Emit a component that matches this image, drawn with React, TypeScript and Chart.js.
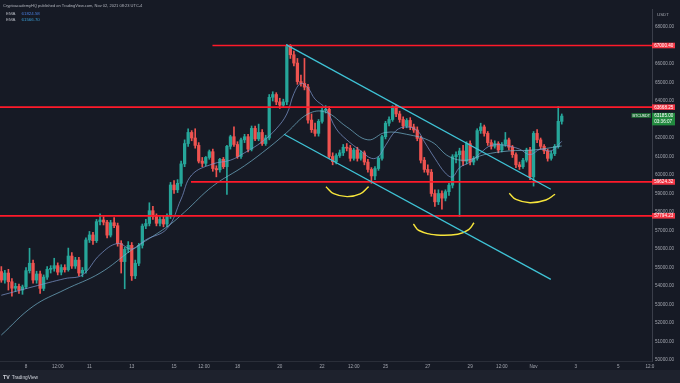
import React, { useEffect, useRef } from "react";
import { Chart, registerables } from "chart.js";

Chart.register(...registerables);

// ---- data (4h candles, index 1 = Oct 7 04:00, index 160 = Nov 2 08:00) ----
const firstCandle = 1;

const opens = [
  54780, 54320, 54700, 54230, 53880, 53980, 53780, 53950, 54830, 55230,
  54320, 54650, 53870, 54480, 54900, 54950, 55100, 54750, 55000, 54880,
  55620, 55080, 55400, 54700, 54850, 56490, 56760, 56450, 57480, 57570,
  57450, 56750, 57420, 57260, 56300, 55320, 55980, 56200, 54550, 55230,
  56200, 57240, 57380, 58070, 57750, 57390, 57600, 57350, 57780, 59460,
  59200, 59550, 60600, 61700, 62300, 62000, 61600, 60750, 60630, 60950,
  61260, 60350, 60280, 60850, 60450, 61550, 62070, 61650, 61000, 61900,
  62070, 61400, 62520, 61950, 62300, 61700, 62000, 64200, 64350, 63950,
  63780, 63950, 66990, 66500, 66050, 65050, 64950, 64750, 62970, 62450,
  62250, 62900, 63500, 63550, 61000, 60720, 61050, 61200, 61500, 61450,
  60900, 61350, 60900, 61200, 60700, 60300, 59950, 60350, 60900, 62070,
  62800, 63000, 63700, 63300, 63000, 62650, 62950, 62600, 62430, 61980,
  60800, 60300, 60150, 59000, 58550, 59000, 58750, 59100, 59450, 60990,
  61100, 61300, 60750, 61700, 60700, 60900, 62400, 62600, 62250, 61750,
  61550, 61700, 61350, 61650, 61900, 61500, 61100, 60550, 60450, 60800,
  61350, 59900, 62250, 61900, 61550, 61300, 60900, 61150, 61550, 62900,
];

const highs = [
  55050, 54850, 54900, 54400, 54150, 54100, 54050, 55000, 56040, 55400,
  54800, 54800, 54600, 55050, 55100, 55500, 55250, 55150, 55150, 56050,
  55800, 55550, 55550, 55000, 56600, 56950, 56900, 57600, 57900, 57750,
  57550, 57550, 57700, 57400, 56450, 56100, 56400, 56350, 55400, 56300,
  57350, 57600, 58500, 58300, 57900, 57750, 57800, 57900, 59600, 59700,
  59750, 60750, 61900, 62500, 62400, 62500, 61750, 60950, 61000, 61350,
  61400, 60500, 60900, 60950, 61600, 62150, 62600, 61800, 62000, 62200,
  62200, 62650, 62650, 62750, 62450, 62150, 64350, 64500, 64450, 64150,
  64100, 67050, 67050, 66700, 66300, 65400, 66300, 64900, 63300, 62800,
  63000, 63600, 63750, 63700, 61200, 61150, 61350, 61650, 61700, 61600,
  61450, 61500, 61300, 61300, 60850, 60400, 60450, 61000, 62150, 62900,
  63150, 63750, 63780, 63450, 63150, 63050, 63100, 62750, 62600, 62100,
  60950, 60550, 60300, 59200, 59200, 59150, 59200, 59550, 61100, 61250,
  61450, 61600, 61800, 61850, 61000, 62500, 62800, 62700, 62350, 61900,
  61850, 61800, 61750, 62300, 62000, 61600, 61200, 60700, 60900, 61450,
  61500, 62350, 62450, 62000, 61650, 61400, 61300, 61650, 63700, 63300,
];

const lows = [
  54200, 54150, 53780, 53450, 53700, 53600, 53550, 53850, 54700, 54150,
  54150, 53600, 53750, 54350, 54700, 54800, 54600, 54600, 54750, 54800,
  54950, 54950, 54550, 54500, 54700, 56350, 56250, 56350, 57300, 57300,
  56600, 56650, 57150, 56150, 54700, 53850, 55800, 54300, 54400, 55100,
  56050, 57100, 57250, 57600, 57250, 57250, 57200, 57200, 57650, 59000,
  59050, 59400, 60450, 61550, 61850, 61450, 60650, 60450, 60500, 60850,
  60200, 59900, 60150, 60350, 58950, 61400, 61550, 60900, 60900, 61750,
  61250, 61300, 61850, 61850, 61600, 61600, 61900, 64000, 63800, 63600,
  63650, 63800, 66300, 65900, 64900, 64800, 64600, 62800, 62300, 62100,
  62100, 62800, 63350, 60900, 60550, 60600, 60950, 61050, 61300, 60750,
  60800, 60750, 60800, 60550, 60150, 59550, 59750, 60250, 60800, 61950,
  62650, 62900, 63150, 62850, 62500, 62550, 62450, 62300, 61850, 60650,
  60150, 60000, 58850, 58300, 58400, 58150, 58600, 58900, 59300, 60650,
  57750, 60500, 60600, 60550, 60550, 60800, 62250, 62100, 61600, 61400,
  61450, 61200, 61250, 61550, 61350, 60950, 60400, 60300, 60350, 60700,
  59750, 59400, 61750, 61400, 61150, 60750, 60800, 61050, 61450, 62750,
];

const closes = [
  54320, 54700, 54230, 53880, 53980, 53780, 53950, 54830, 55230, 54320,
  54650, 53870, 54480, 54900, 54950, 55100, 54750, 55000, 54880, 55620,
  55080, 55400, 54700, 54850, 56490, 56760, 56450, 57480, 57570, 57450,
  56750, 57420, 57260, 56300, 55320, 55980, 56200, 54550, 55230, 56200,
  57240, 57380, 58070, 57750, 57390, 57600, 57350, 57780, 59460, 59200,
  59550, 60600, 61700, 62300, 62000, 61600, 60750, 60630, 60950, 61260,
  60350, 60280, 60850, 60450, 61550, 62070, 61650, 61000, 61900, 62070,
  61400, 62520, 61950, 62300, 61700, 62000, 64200, 64350, 63950, 63780,
  63950, 66990, 66500, 66050, 65050, 64950, 64750, 62970, 62450, 62250,
  62900, 63500, 63550, 61000, 60720, 61050, 61200, 61500, 61450, 60900,
  61350, 60900, 61200, 60700, 60300, 59950, 60350, 60900, 62070, 62800,
  63000, 63700, 63300, 63000, 62650, 62950, 62600, 62430, 61980, 60800,
  60300, 60150, 59000, 58550, 59000, 58750, 59100, 59450, 60990, 61100,
  61300, 60750, 61700, 60700, 60900, 62400, 62600, 62250, 61750, 61550,
  61700, 61350, 61650, 61900, 61500, 61100, 60550, 60450, 60800, 61350,
  59900, 62250, 61900, 61550, 61300, 60900, 61150, 61550, 62900, 63185,
];

// EMA lines (candle index, price)
const emaFastIdx = [1, 10, 19, 24, 29, 34, 38, 42, 48, 52, 55, 61, 66, 70, 75, 79, 82, 84, 86, 88, 90, 93, 96, 99, 103, 106, 108, 110, 113, 116, 119, 121, 124, 127, 129, 131, 134, 137, 140, 144, 148, 151, 154, 157, 160];
const emaFastVal = [53500, 53960, 54400, 54600, 55700, 56300, 56000, 56500, 57100, 58700, 60000, 60600, 60800, 61200, 61800, 62500, 63300, 64400, 64950, 64700, 64100, 63600, 62500, 61900, 61300, 60900, 61000, 61600, 62400, 62600, 62400, 61800, 60900, 60100, 59900, 60400, 60700, 61200, 61600, 61600, 61400, 61100, 61400, 61300, 61820];
const emaSlowIdx = [1, 10, 19, 29, 38, 48, 53, 61, 70, 77, 82, 88, 93, 99, 105, 110, 116, 123, 128, 133, 138, 145, 152, 160];
const emaSlowVal = [51350, 52900, 53800, 54700, 55950, 57200, 58000, 59400, 60500, 61500, 62300, 63300, 63400, 62600, 61900, 62300, 62200, 61800, 61000, 60800, 61100, 61300, 61350, 61570];

// horizontal levels
const levelPrices = [67000.4, 63668.25, 59624.32, 57794.23];
const levelLabels = ["67000.40", "63668.25", "59624.32", "57794.23"];
const levelStarts = [60.9, 0.62, 54.8, 0.62];

// descending channel
const channelUpperIdx = [81.8, 156.9];
const channelUpperVal = [67050, 59230];
const channelLowerIdx = [81.2, 156.9];
const channelLowerVal = [62200, 54360];

// yellow "smile" arcs
const arc1Idx = [93.1, 95.3, 99.1, 102.8, 105.2];
const arc1Val = [59370, 58990, 58830, 58980, 59370];
const arc2Idx = [117.9, 119.5, 124.5, 130.5, 133.6, 135.1];
const arc2Val = [57350, 57000, 56760, 56800, 57050, 57420];
const arc3Idx = [145.1, 147.0, 151.0, 155.5, 158.1];
const arc3Val = [59010, 58680, 58500, 58650, 58960];

// axes
const xTickPositions = [8, 17, 26, 38, 50, 58.5, 68, 80, 92, 101, 110, 122, 134, 143, 152, 164, 176, 185];
const xTickLabels = ["8", "12:00", "11", "13", "15", "12:00", "18", "20", "22", "12:00", "25", "27", "29", "12:00", "Nov", "3", "5", "12:0"];
const yTickValues = [50000, 51000, 52000, 53000, 54000, 55000, 56000, 57000, 58000, 59000, 60000, 61000, 62000, 63000, 64000, 65000, 66000, 67000, 68000];
const xMin = 0.62;
const xMax = 185.6;
const yMin = 49946;
const yMax = 68973;

const lastPrice = 63185;
const lastPriceLabel = "63185.00";
const countdownLabel = "03:36:07";
const symbolLabel = "BTCUSDT";
const emaLegendValues = ["61824.58", "61566.70"];

const UP = "#26a69a";
const DOWN = "#ef5350";
const FONT = '"Liberation Sans", Arial, sans-serif';

function pts(xs: number[], ys: number[]) {
  return xs.map((x, i) => ({ x, y: ys[i] }));
}

const axisLabelsPlugin = {
  id: "axisLabels",
  afterDraw(chart: any) {
    const { ctx, chartArea, scales } = chart;
    const y = scales.y;
    const r = chartArea.right;
    ctx.save();
    ctx.font = `4.6px ${FONT}`;
    ctx.textBaseline = "middle";
    ctx.textAlign = "left";
    levelPrices.forEach((p, i) => {
      const py = y.getPixelForValue(p);
      ctx.fillStyle = "#f23645";
      ctx.fillRect(r, py - 2.8, 23, 5.6);
      ctx.fillStyle = "#ffffff";
      ctx.fillText(levelLabels[i], r + 2.2, py + 0.2);
    });
    const py = y.getPixelForValue(lastPrice);
    ctx.fillStyle = "#1d6b34";
    ctx.fillRect(r - 20.5, py - 3, 19.5, 4.8);
    ctx.fillStyle = "#228a3f";
    ctx.fillRect(r, py - 3.2, 23, 12.5);
    ctx.fillStyle = "#ffffff";
    ctx.fillText(lastPriceLabel, r + 2.2, py - 0.4);
    ctx.fillText(countdownLabel, r + 2.2, py + 5.4);
    ctx.font = `3.7px ${FONT}`;
    ctx.textAlign = "center";
    ctx.fillText(symbolLabel, r - 10.75, py - 0.5);
    ctx.restore();
  },
};

export default function App() {
  const canvasRef = useRef<HTMLCanvasElement | null>(null);

  useEffect(() => {
    const canvas = canvasRef.current;
    if (!canvas) return;
    const xs = opens.map((_, i) => firstCandle + i);
    const colors = opens.map((o, i) => (closes[i] >= o ? UP : DOWN));

    const levelSets = levelPrices.map((p, i) => ({
      type: "line",
      data: [
        { x: levelStarts[i], y: p },
        { x: xMax, y: p },
      ],
      borderColor: "#ff1a2a",
      borderWidth: 1.7,
      pointRadius: 0,
      order: 1,
    }));

    const lineStyle = (color: string, width: number, tension: number) => ({
      type: "line",
      borderColor: color,
      borderWidth: width,
      pointRadius: 0,
      tension,
      fill: false,
    });

    const chart = new Chart(canvas, {
      type: "bar",
      data: {
        datasets: [
          ...levelSets,
          { ...lineStyle("#3fc3d6", 1.3, 0), data: pts(channelUpperIdx, channelUpperVal), order: 0 },
          { ...lineStyle("#3fc3d6", 1.3, 0), data: pts(channelLowerIdx, channelLowerVal), order: 0 },
          { ...lineStyle("#f7e53b", 1.4, 0.45), data: pts(arc1Idx, arc1Val), order: 0 },
          { ...lineStyle("#f7e53b", 1.4, 0.45), data: pts(arc2Idx, arc2Val), order: 0 },
          { ...lineStyle("#f7e53b", 1.4, 0.45), data: pts(arc3Idx, arc3Val), order: 0 },
          { ...lineStyle("rgba(125,150,205,0.9)", 0.8, 0.4), data: pts(emaFastIdx, emaFastVal), order: 3 },
          { ...lineStyle("rgba(120,185,210,0.85)", 0.8, 0.4), data: pts(emaSlowIdx, emaSlowVal), order: 3 },
          {
            type: "bar",
            data: xs.map((x, i) => ({ x, y: [lows[i], highs[i]] })),
            backgroundColor: colors,
            barThickness: 1,
            grouped: false,
            order: 5,
          },
          {
            type: "bar",
            data: xs.map((x, i) => ({ x, y: [opens[i], closes[i]] })),
            backgroundColor: colors,
            barThickness: 2.6,
            minBarLength: 1,
            grouped: false,
            order: 4,
          },
        ] as any,
      },
      options: {
        animation: false,
        responsive: false,
        maintainAspectRatio: false,
        layout: { padding: { top: 9, bottom: 13, left: 0, right: 0 } },
        plugins: { legend: { display: false }, tooltip: { enabled: false } },
        scales: {
          x: {
            type: "linear",
            min: xMin,
            max: xMax,
            offset: false,
            grid: { display: false, drawTicks: false },
            border: { display: true, color: "#2a2e39" },
            ticks: {
              autoSkip: false,
              maxRotation: 0,
              padding: 3,
              color: "#a3a6af",
              font: { family: FONT, size: 4.6 },
              callback: (_v: any, i: number) => xTickLabels[i],
            },
            afterBuildTicks: (s: any) => {
              s.ticks = xTickPositions.map((v) => ({ value: v }));
            },
            afterFit: (s: any) => {
              s.height = 9;
            },
          },
          y: {
            type: "linear",
            position: "right",
            min: yMin,
            max: yMax,
            grid: { display: false, drawTicks: false },
            border: { display: true, color: "#3a3e4a" },
            ticks: {
              padding: 3,
              color: "#a3a6af",
              font: { family: FONT, size: 4.6 },
              callback: (v: any) => Number(v).toFixed(2),
            },
            afterBuildTicks: (s: any) => {
              s.ticks = yTickValues.map((v) => ({ value: v }));
            },
            afterFit: (s: any) => {
              s.width = 28;
            },
          },
        },
      } as any,
      plugins: [axisLabelsPlugin],
    });
    return () => chart.destroy();
  }, []);

  const small = { position: "absolute" as const, fontFamily: FONT, whiteSpace: "nowrap" as const };

  return (
    <div style={{ position: "absolute", left: 0, top: 0, width: 680, height: 383, background: "#161a25", overflow: "hidden" }}>
      <div style={{ position: "absolute", left: 0, top: 370, width: 680, height: 13, background: "#1e222d" }} />
      <canvas ref={canvasRef} width={680} height={383} style={{ position: "absolute", left: 0, top: 0, display: "block" }} />
      <div style={{ ...small, left: 3, top: 2.5, fontSize: 4, lineHeight: "5px", color: "#b2b5be" }}>
        CryptoacademyHQ published on TradingView.com, Nov 02, 2021 08:23 UTC-4
      </div>
      <div style={{ ...small, left: 6, top: 10.5, fontSize: 4.4, lineHeight: "6px", color: "#b2b5be" }}>
        EMA <span style={{ marginLeft: 5, color: "#4a7fe0" }}>{emaLegendValues[0]}</span>
      </div>
      <div style={{ ...small, left: 6, top: 16.5, fontSize: 4.4, lineHeight: "6px", color: "#b2b5be" }}>
        EMA <span style={{ marginLeft: 5, color: "#3a9fd6" }}>{emaLegendValues[1]}</span>
      </div>
      <div style={{ ...small, left: 657, top: 11.5, fontSize: 4.4, lineHeight: "5px", color: "#a3a6af" }}>USDT</div>
      <div style={{ ...small, left: 3, top: 374, fontSize: 4.8, lineHeight: "6px", color: "#d1d4dc" }}>
        <b style={{ fontSize: 5.2, marginRight: 2 }}>TV</b>TradingView
      </div>
    </div>
  );
}
